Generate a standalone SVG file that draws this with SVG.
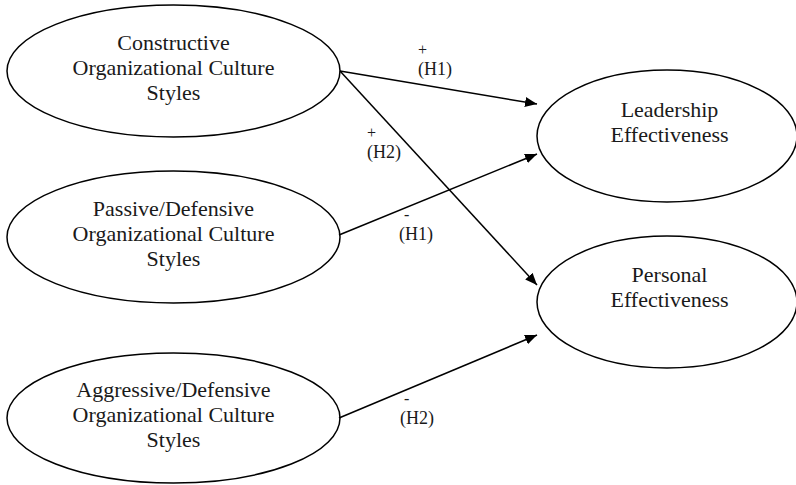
<svg xmlns="http://www.w3.org/2000/svg" width="796" height="485" viewBox="0 0 796 485">
<style>
.node ellipse{fill:#fff;stroke:#000;stroke-width:1.5}
.node text{font-family:"Liberation Serif","Times New Roman",serif;font-size:22px;fill:#1a1a1a;text-anchor:middle}
.lbl{font-family:"Liberation Serif","Times New Roman",serif;font-size:18px;fill:#1a1a1a}
.sgn{font-family:"Liberation Serif","Times New Roman",serif;font-size:16px;fill:#1a1a1a}
.conn line{stroke:#000;stroke-width:1.5;marker-end:url(#ah)}
</style>
<defs>
<marker id="ah" viewBox="0 0 12 10" refX="12" refY="5" markerWidth="12" markerHeight="10" markerUnits="userSpaceOnUse" orient="auto">
<path d="M0,0 L12,5 L0,10 Z" fill="#000"/>
</marker>
</defs>
<g id="constructive" class="node">
<ellipse cx="173.5" cy="71" rx="166.5" ry="66"/>
<text x="173.5" y="50">Constructive</text>
<text x="173.5" y="75">Organizational Culture</text>
<text x="173.5" y="100">Styles</text>
</g>
<g id="passive" class="node">
<ellipse cx="173.5" cy="237" rx="166.5" ry="66"/>
<text x="173.5" y="216">Passive/Defensive</text>
<text x="173.5" y="241">Organizational Culture</text>
<text x="173.5" y="266">Styles</text>
</g>
<g id="aggressive" class="node">
<ellipse cx="173.5" cy="418" rx="166.5" ry="65"/>
<text x="173.5" y="397">Aggressive/Defensive</text>
<text x="173.5" y="422">Organizational Culture</text>
<text x="173.5" y="447">Styles</text>
</g>
<g id="leadership" class="node">
<ellipse cx="667" cy="136" rx="130" ry="66"/>
<text x="669.5" y="117">Leadership</text>
<text x="669.5" y="142">Effectiveness</text>
</g>
<g id="personal" class="node">
<ellipse cx="667" cy="302" rx="130" ry="66"/>
<text x="669.5" y="282">Personal</text>
<text x="669.5" y="307">Effectiveness</text>
</g>
<g id="connectors" class="conn">
<line x1="340" y1="71" x2="537" y2="104"/>
<line x1="340" y1="71" x2="537" y2="285"/>
<line x1="339" y1="235" x2="537" y2="154"/>
<line x1="339" y1="418" x2="537" y2="335"/>
</g>
<g id="labels">
<text class="sgn" x="418" y="55">+</text>
<text class="lbl" x="418" y="75">(H1)</text>
<text class="sgn" x="367" y="138">+</text>
<text class="lbl" x="367" y="158">(H2)</text>
<text class="sgn" x="404" y="220">-</text>
<text class="lbl" x="399" y="240">(H1)</text>
<text class="sgn" x="404" y="404">-</text>
<text class="lbl" x="400" y="424">(H2)</text>
</g>
</svg>
